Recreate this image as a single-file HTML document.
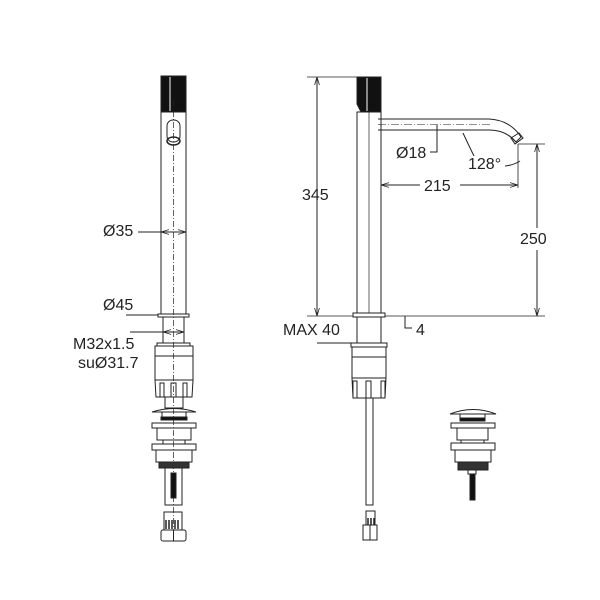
<!DOCTYPE html>
<html><head><meta charset="utf-8"><style>html,body{margin:0;padding:0;background:#fff}svg{display:block}text{font-family:"Liberation Sans",Arial,sans-serif;font-size:16px;fill:#222}</style></head>
<body>
<svg width="600" height="600" viewBox="0 0 600 600" xmlns="http://www.w3.org/2000/svg">
<defs>
<marker id="a" viewBox="0 0 10 10" refX="10" refY="5" markerWidth="8" markerHeight="8" orient="auto-start-reverse" markerUnits="userSpaceOnUse"><path d="M0,2 L10,5 L0,8" fill="none" stroke="#222" stroke-width="1"/></marker>
</defs>
<g fill="none" stroke="#222" stroke-width="1">
<!-- LEFT FAUCET -->
<rect x="161" y="76" width="25" height="36" fill="#111"/>
<line x1="170" y1="77" x2="170" y2="111" stroke="#fff" stroke-width="1"/>
<rect x="161" y="112" width="25" height="202"/>
<rect x="167" y="120" width="13" height="22" rx="6"/>
<ellipse cx="173.5" cy="141" rx="6.5" ry="4" stroke-width="1.5"/>
<line x1="173.5" y1="100" x2="173.5" y2="540" stroke-dasharray="6,2,1,2" stroke-width="0.7"/>
<rect x="158" y="314" width="31" height="3"/>
<rect x="163" y="317" width="21" height="26"/>
<rect x="157" y="343" width="33" height="3"/>
<rect x="155" y="346" width="38" height="34"/>
<line x1="155" y1="356" x2="193" y2="356"/>
<path d="M155,380 L156,397 L192,397 L193,380"/>
<path d="M160,397 V383 h4 V397 M171,397 V383 h5 V397 M183,397 V383 h4 V397"/>
<rect x="165" y="397" width="18" height="11"/>
<path d="M152,412 Q174,405 196,412 Z"/>
<rect x="162" y="412" width="24" height="6"/>
<rect x="161" y="417" width="26" height="3" fill="#111"/>
<rect x="152" y="423" width="44" height="5"/>
<rect x="157" y="428" width="34" height="12"/>
<rect x="163" y="440" width="22" height="4"/>
<rect x="152" y="444" width="44" height="6"/>
<rect x="156" y="450" width="36" height="12"/>
<rect x="159" y="462" width="30" height="6" fill="#333"/>
<rect x="165" y="468" width="17" height="37"/>
<rect x="171" y="473" width="5" height="25" fill="#111"/>
<rect x="164" y="512" width="18" height="18"/>
<path d="M166,520 v9 M169,520 v9 M172,520 v9 M175,520 v9 M178,520 v9" stroke-width="1.5"/>
<rect x="161" y="530" width="25" height="11" rx="2"/>
<line x1="173.5" y1="530" x2="173.5" y2="541"/>
<!-- left dims -->
<line x1="138" y1="232" x2="161" y2="232"/>
<line x1="173" y1="232" x2="161" y2="232" marker-end="url(#a)"/>
<line x1="173" y1="232" x2="186" y2="232" marker-end="url(#a)"/>
<line x1="126" y1="315" x2="158" y2="315"/>
<line x1="130" y1="332" x2="163" y2="332"/>
<line x1="173" y1="332" x2="163" y2="332" marker-end="url(#a)"/>
<line x1="173" y1="332" x2="184" y2="332" marker-end="url(#a)"/>

<!-- RIGHT FAUCET -->
<path d="M357,77 H381 V112 H361 L357,104 Z" fill="#111"/>
<line x1="367" y1="78" x2="367" y2="111" stroke="#fff"/>
<rect x="357" y="112" width="24" height="201"/>
<line x1="369" y1="112" x2="369" y2="313" stroke-width="0.7"/>
<path d="M378,119 H489 Q510,120 521,137 L516,142 Q506,130 489,130 H378"/>
<line x1="378" y1="124.5" x2="490" y2="124.5" stroke-dasharray="8,2,1,2" stroke-width="0.6"/>
<path d="M511,138 L519,133 L523,138 L515,144 Z"/>
<rect x="353" y="313" width="32" height="4"/>
<line x1="385" y1="316" x2="545" y2="316" stroke-width="0.8"/>
<path d="M405,316 V328 H412"/>
<rect x="357" y="317" width="24" height="26"/>
<rect x="351" y="343" width="36" height="4"/>
<line x1="317" y1="343" x2="351" y2="343"/>
<rect x="352" y="347" width="34" height="31"/>
<line x1="352" y1="357" x2="386" y2="357"/>
<path d="M352,378 L353,398 L385,398 L386,378"/>
<path d="M353,398 V381 h4 V398 M366,398 V381 h5 V398 M381,398 V381 h4 V398"/>
<rect x="366" y="398" width="7" height="107"/>
<rect x="366" y="511" width="9" height="14"/>
<path d="M368,518 v7 M371,518 v7 M374,518 v7" stroke-width="1.5"/>
<rect x="363" y="525" width="14" height="15"/>
<line x1="370" y1="525" x2="370" y2="540"/>
<!-- right dims -->
<line x1="307" y1="77" x2="357" y2="77" stroke-width="0.8"/>
<line x1="307" y1="316" x2="353" y2="316" stroke-width="0.8"/>
<line x1="317" y1="190" x2="317" y2="77" marker-end="url(#a)"/>
<line x1="317" y1="200" x2="317" y2="316" marker-end="url(#a)"/>
<line x1="518" y1="144" x2="545" y2="144" stroke-width="0.8"/>
<line x1="537" y1="228" x2="537" y2="144" marker-end="url(#a)"/>
<line x1="537" y1="250" x2="537" y2="316" marker-end="url(#a)"/>
<line x1="518" y1="144" x2="518" y2="188" stroke-width="0.8"/>
<line x1="420" y1="185" x2="381" y2="185" marker-end="url(#a)"/>
<line x1="460" y1="185" x2="518" y2="185" marker-end="url(#a)"/>
<path d="M437,125 V152 H430"/>
<path d="M463,133 Q470,148 474,156"/>
<path d="M505,166 Q514,165 520,161"/>

<!-- DRAIN -->
<path d="M450,414 Q473,405 496,414 Z"/>
<rect x="460" y="414" width="25" height="5"/>
<rect x="460" y="418" width="25" height="3" fill="#111"/>
<rect x="451" y="423" width="44" height="5"/>
<rect x="457" y="428" width="31" height="12"/>
<rect x="461" y="440" width="23" height="3"/>
<rect x="451" y="443" width="44" height="7"/>
<rect x="455" y="450" width="36" height="12"/>
<rect x="458" y="462" width="30" height="8" fill="#333"/>
<rect x="468" y="470" width="8" height="4"/>
<rect x="470" y="474" width="5" height="26" fill="#111"/>
</g>
<g>
<text x="103" y="236">Ø35</text>
<text x="103" y="310">Ø45</text>
<text x="73" y="349">M32x1.5</text>
<text x="78" y="368">suØ31.7</text>
<text x="302" y="200">345</text>
<text x="396" y="158">Ø18</text>
<text x="424" y="191">215</text>
<text x="468" y="169">128°</text>
<text x="520" y="244">250</text>
<text x="283" y="335">MAX 40</text>
<text x="416" y="335">4</text>
</g>
</svg>
</body></html>
